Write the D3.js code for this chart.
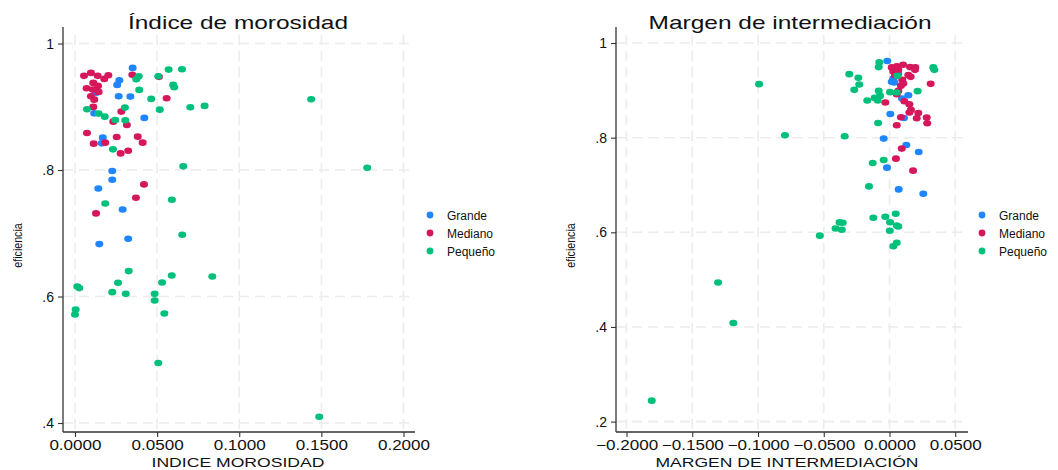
<!DOCTYPE html>
<html><head><meta charset="utf-8">
<script src="https://cdn.jsdelivr.net/npm/d3@7"></script>
<style>body{margin:0;background:#fff}svg{display:block}text{font-family:"Liberation Sans",Arial,sans-serif}</style>
</head><body><svg id="c" width="1058" height="470"></svg>
<script>
const seriesNames = ["Grande", "Mediano", "Pequeño"];
const seriesColors = ["#1f86ff", "#d6175c", "#00c07c"];

// Panel 1: Índice de morosidad (x) vs eficiencia (y)
const morGrande = [[0.0351,0.9615],[0.0270,0.9419],[0.0257,0.9346],[0.0266,0.9166],[0.0337,0.9161],[0.0117,0.8896],[0.0422,0.8824],[0.0169,0.8512],[0.0163,0.8422],[0.0227,0.7985],[0.0227,0.7847],[0.0142,0.7709],[0.0290,0.7377],[0.0324,0.6913],[0.0148,0.6829],[0.0128,0.9220]];
const morMediano = [[0.0055,0.9489],[0.0097,0.9536],[0.0138,0.9489],[0.0178,0.9441],[0.0203,0.9498],[0.0349,0.9505],[0.0511,0.9473],[0.0111,0.9378],[0.0140,0.9330],[0.0071,0.9292],[0.0108,0.9272],[0.0144,0.9235],[0.0097,0.9166],[0.0117,0.9113],[0.0558,0.9134],[0.0111,0.8998],[0.0282,0.8924],[0.0233,0.8765],[0.0316,0.8713],[0.0073,0.8586],[0.0254,0.8523],[0.0382,0.8528],[0.0114,0.8417],[0.0184,0.8433],[0.0412,0.8433],[0.0278,0.8263],[0.0324,0.8306],[0.0420,0.7773],[0.0371,0.7562],[0.0128,0.7314]];
const morPequeno = [[0.0570,0.9588],[0.0651,0.9593],[0.0388,0.9482],[0.0373,0.9435],[0.0507,0.9482],[0.0598,0.9346],[0.0604,0.9308],[0.0391,0.9267],[0.0464,0.9125],[0.0304,0.8987],[0.0516,0.8955],[0.0702,0.8992],[0.0789,0.9014],[0.0073,0.8960],[0.0144,0.8892],[0.0181,0.8844],[0.0245,0.8792],[0.0306,0.8786],[0.0231,0.8327],[0.0659,0.8058],[0.0590,0.7530],[0.0184,0.7472],[0.0653,0.6976],[0.0327,0.6402],[0.0589,0.6332],[0.0836,0.6316],[0.0014,0.6158],[0.0026,0.6133],[0.0262,0.6217],[0.0530,0.6221],[0.0227,0.6069],[0.0309,0.6042],[0.0485,0.6042],[0.0485,0.5936],[0.0004,0.5794],[0.0000,0.5715],[0.0544,0.5731],[0.0507,0.4950],[0.1438,0.9118],[0.1779,0.8037],[0.1487,0.4100]];

// Panel 2: Margen de intermediación (x) vs eficiencia (y)
const marGrande = [[-0.0017,0.9619],[0.0067,0.9350],[0.0029,0.9252],[0.0017,0.9180],[0.0037,0.9167],[0.0143,0.8898],[0.0095,0.8828],[0.0006,0.8502],[0.0110,0.8417],[-0.0044,0.7981],[0.0128,0.7845],[0.0222,0.7697],[-0.0019,0.7367],[0.0070,0.6907],[0.0257,0.6816]];
const marMediano = [[0.0017,0.9485],[0.0055,0.9506],[0.0103,0.9540],[0.0156,0.9492],[0.0196,0.9485],[0.0194,0.9434],[0.0029,0.9400],[0.0067,0.9434],[0.0042,0.9322],[0.0143,0.9322],[0.0161,0.9286],[0.0097,0.9222],[0.0105,0.9146],[0.0313,0.9138],[0.0087,0.9095],[0.0067,0.8989],[0.0055,0.8919],[-0.0032,0.8744],[0.0113,0.8771],[0.0151,0.8708],[0.0163,0.8587],[0.0151,0.8532],[0.0219,0.8523],[0.0087,0.8432],[0.0207,0.8411],[0.0283,0.8426],[0.0287,0.8305],[0.0055,0.8263],[0.0093,0.7769],[0.0049,0.7557],[0.0179,0.7303]];
const marPequeno = [[-0.0078,0.9591],[-0.0082,0.9492],[-0.0306,0.9343],[-0.0237,0.9265],[-0.0230,0.9125],[-0.0268,0.9011],[-0.0082,0.8989],[0.0004,0.8962],[0.0055,0.8955],[0.0214,0.8983],[-0.0169,0.8786],[-0.0113,0.8841],[-0.0072,0.8883],[-0.0090,0.8786],[-0.0087,0.8311],[-0.0341,0.8030],[0.0333,0.9485],[0.0341,0.9434],[0.0059,0.9307],[-0.0128,0.7464],[-0.0044,0.7528],[-0.0156,0.6970],[-0.0123,0.6307],[-0.0032,0.6328],[0.0047,0.6392],[-0.0356,0.6201],[-0.0363,0.6053],[0.0004,0.6214],[0.0055,0.6144],[0.0067,0.6123],[0.0002,0.6032],[0.0055,0.5778],[0.0029,0.5706],[-0.0992,0.9131],[-0.1188,0.4083],[-0.1808,0.2443],[-0.0795,0.8050],[-0.1304,0.4940],[-0.0530,0.5930],[-0.0410,0.6080],[-0.0380,0.6210]];

const morXTicks = [0, 0.05, 0.10, 0.15, 0.20];
const morYTicks = [0.4, 0.6, 0.8, 1];
const marXTicks = [-0.20, -0.15, -0.10, -0.05, 0, 0.05];
const marYTicks = [0.2, 0.4, 0.6, 0.8, 1];

const panels = [
  {title: "Índice de morosidad", xLabel: "INDICE MOROSIDAD", series: [morGrande, morMediano, morPequeno],
   xDomain: [-0.0073, 0.207], yDomain: [0.3858, 1.0135], xTicks: morXTicks, yTicks: morYTicks,
   left: 63, right: 415, top: 35, bottom: 432, legendX: 430, titleW: 220, titleCx: 238, labelW: 173, labelCx: 238},
  {title: "Margen de intermediación", xLabel: "MARGEN DE INTERMEDIACIÓN", series: [marGrande, marMediano, marPequeno],
   xDomain: [-0.208, 0.0597], yDomain: [0.178, 1.017], xTicks: marXTicks, yTicks: marYTicks,
   left: 616, right: 968, top: 35, bottom: 432, legendX: 982, titleW: 283, titleCx: 790, labelW: 263, labelCx: 787}
];

const svg = d3.select("#c");
const fmtY = d => d === 1 ? "1" : d3.format(".1f")(d).replace(/^0/, "");
const fmtX = d => d3.format(".4f")(d).replace("-", "\u2212");

panels.forEach(p => {
  const x = d3.scaleLinear().domain(p.xDomain).range([p.left, p.right]);
  const y = d3.scaleLinear().domain(p.yDomain).range([p.bottom, p.top]);
  const g = svg.append("g");
  // grid
  g.selectAll(".gx").data(p.xTicks).join("line")
    .attr("x1", d => x(d)).attr("x2", d => x(d)).attr("y1", p.top).attr("y2", p.bottom)
    .attr("stroke", "#ececec").attr("stroke-width", 1.6).attr("stroke-dasharray", "10,6");
  g.selectAll(".gy").data(p.yTicks).join("line")
    .attr("x1", p.left).attr("x2", p.right).attr("y1", d => y(d)).attr("y2", d => y(d))
    .attr("stroke", "#ececec").attr("stroke-width", 1.6).attr("stroke-dasharray", "10,6");
  // axes
  const ax = g.append("g").attr("transform", `translate(0,${p.bottom})`)
    .call(d3.axisBottom(x).tickValues(p.xTicks).tickFormat(fmtX).tickSize(5).tickPadding(3));
  const ay = g.append("g").attr("transform", `translate(${p.left},0)`)
    .call(d3.axisLeft(y).tickValues(p.yTicks).tickFormat(fmtY).tickSize(5).tickPadding(3));
  [ax, ay].forEach(a => {
    a.select(".domain").attr("stroke", "#333").attr("stroke-width", 1.3);
    a.selectAll(".tick line").attr("stroke", "#333").attr("stroke-width", 1.1);
    a.selectAll("text").attr("fill", "#111").style("font-size", "14px")
      .style("font-family", "'Liberation Sans',Arial,sans-serif").attr("transform", "scale(1.22,1)");
  });
  ay.selectAll("text").attr("transform", null).attr("x", -9);
  ay.select(".domain").attr("d", `M0,${p.top-8}V${p.bottom}`);
  ax.select(".domain").attr("d", `M${p.left},0H${p.right}`);
  // points (draw in series order)
  p.series.forEach((data, i) => {
    g.append("g").selectAll("ellipse").data(data).join("ellipse")
      .attr("cx", d => x(d[0])).attr("cy", d => y(d[1]))
      .attr("rx", 4).attr("ry", 3.3).attr("fill", seriesColors[i]);
  });
  // titles
  g.append("text").attr("x", p.titleCx).attr("y", 28.5).attr("text-anchor", "middle")
    .attr("textLength", p.titleW).attr("lengthAdjust", "spacingAndGlyphs")
    .style("font-size", "19px").attr("fill", "#111").text(p.title);
  g.append("text").attr("x", p.labelCx).attr("y", 467).attr("text-anchor", "middle")
    .attr("textLength", p.labelW).attr("lengthAdjust", "spacingAndGlyphs")
    .style("font-size", "13.5px").attr("fill", "#111").text(p.xLabel);
  g.append("text").attr("transform", `translate(${p.left - 41},${(p.top + p.bottom) / 2 + 12}) rotate(-90) scale(0.82,1)`)
    .attr("text-anchor", "middle").style("font-size", "13px").attr("fill", "#111").text("eficiencia");
  // legend
  const lg = g.append("g");
  seriesNames.forEach((n, i) => {
    lg.append("circle").attr("cx", p.legendX).attr("cy", 215 + i * 18).attr("r", 3.4).attr("fill", seriesColors[i]);
    lg.append("text").attr("x", p.legendX + 17).attr("y", 219.5 + i * 18).style("font-size", "12px").attr("fill", "#111").text(n);
  });
});
</script></body></html>
